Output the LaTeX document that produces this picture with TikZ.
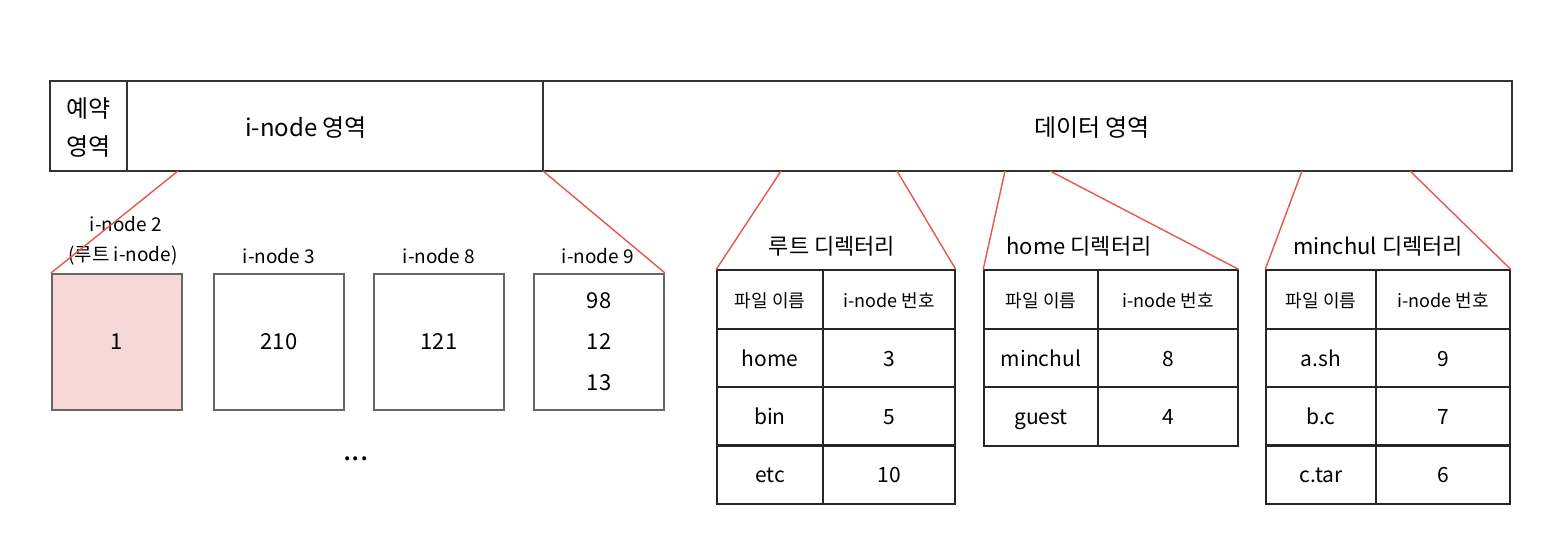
\documentclass[tikz,border=0pt]{standalone}
\usepackage{fontspec}
\setmainfont{Noto Sans CJK KR}
\usetikzlibrary{positioning}
\definecolor{zoomred}{HTML}{E5574F}
\definecolor{rootpink}{HTML}{F7D7D8}

\begin{document}
\begin{tikzpicture}[x=1pt,y=-1pt,
        bar/.style={draw=black!80, line width=1.6pt, minimum height=90, inner sep=0},
        barlbl/.style={inner sep=0, font=\fontsize{24}{38}\selectfont, align=center},
        inobox/.style={draw=black!60, line width=2pt, minimum width=130, minimum height=136,
            inner sep=0, align=center, font=\fontsize{22}{41}\selectfont},
        cell/.style={draw=black!85, line width=1.6pt, minimum height=58.5, inner sep=0,
            text height=20pt, text depth=4pt, font=\fontsize{21}{24}\selectfont},
        head/.style={cell, font=\fontsize{18}{20}\selectfont},
        lbl/.style={inner sep=0, font=\fontsize{19}{22}\selectfont},
        dirtitle/.style={inner sep=0, font=\fontsize{22}{25}\selectfont},
        zoomline/.style={draw=zoomred, line width=1.4pt}]
        \useasboundingbox (0,0) rectangle (1558,554);
        % Disk layout bar
        \node[bar, minimum width=77] (rsv) at (88.5,126) {};
        \node[bar, minimum width=416] (inoarea) at (335,126) {};
        \node[bar, minimum width=969] (dataarea) at (1027.5,126) {};
        \node[barlbl] (rsvlbl) at (88.5,128) {예약\\영역};
        \node[barlbl] (inolbl) at (306,128) {i-node 영역};
        \node[barlbl] (datalbl) at (1092,128) {데이터 영역};
        % i-nodes
        \node[inobox, fill=rootpink] (ino2) at (117,342) {1};
        \node[inobox] (ino3) at (279,342) {210};
        \node[inobox] (ino8) at (439,342) {121};
        \node[inobox] (ino9) at (599,342) {98\\12\\13};
        \node[lbl] (ino2lbl) at (126,224) {i-node 2};
        \node[lbl] (ino2sub) at (123,256) {(루트 i-node)};
        \node[lbl] (ino3lbl) at (279,256) {i-node 3};
        \node[lbl] (ino8lbl) at (439,256) {i-node 8};
        \node[lbl] (ino9lbl) at (598,256) {i-node 9};
        \node[inner sep=0, font=\fontsize{30}{30}\selectfont] (more) at (356,459) {...};
        % Root directory
        \node[dirtitle] (roottitle) at (832,246) {루트 디렉터리};
        \node[head, minimum width=106] (r0a) at (770,299.5) {파일 이름};
        \node[head, minimum width=132] (r0b) at (889,299.5) {i-node 번호};
        \node[cell, minimum width=106] (r1a) at (770,358) {home};
        \node[cell, minimum width=132] (r1b) at (889,358) {3};
        \node[cell, minimum width=106] (r2a) at (770,416.5) {bin};
        \node[cell, minimum width=132] (r2b) at (889,416.5) {5};
        \node[cell, minimum width=106] (r3a) at (770,474.5) {etc};
        \node[cell, minimum width=132] (r3b) at (889,474.5) {10};
        % home directory
        \node[dirtitle] (hometitle) at (1079,246) {home 디렉터리};
        \node[head, minimum width=114] (h0a) at (1041,299.5) {파일 이름};
        \node[head, minimum width=140] (h0b) at (1168,299.5) {i-node 번호};
        \node[cell, minimum width=114] (h1a) at (1041,358) {minchul};
        \node[cell, minimum width=140] (h1b) at (1168,358) {8};
        \node[cell, minimum width=114] (h2a) at (1041,416.5) {guest};
        \node[cell, minimum width=140] (h2b) at (1168,416.5) {4};
        % minchul directory
        \node[dirtitle] (mctitle) at (1378,246) {minchul 디렉터리};
        \node[head, minimum width=110] (m0a) at (1321,299.5) {파일 이름};
        \node[head, minimum width=134] (m0b) at (1443,299.5) {i-node 번호};
        \node[cell, minimum width=110] (m1a) at (1321,358) {a.sh};
        \node[cell, minimum width=134] (m1b) at (1443,358) {9};
        \node[cell, minimum width=110] (m2a) at (1321,416.5) {b.c};
        \node[cell, minimum width=134] (m2b) at (1443,416.5) {7};
        \node[cell, minimum width=110] (m3a) at (1321,474.5) {c.tar};
        \node[cell, minimum width=134] (m3b) at (1443,474.5) {6};
        % Zoom lines
        \coordinate (zi1) at (178,171);
        \coordinate (zi2) at (543,171);
        \coordinate (zr1) at (781,171);
        \coordinate (zr2) at (897,171);
        \coordinate (zh1) at (1005,171);
        \coordinate (zh2) at (1050,171);
        \coordinate (zm1) at (1302,171);
        \coordinate (zm2) at (1410,171);
        \draw[zoomline] (zi1) -- (ino2.north west);
        \draw[zoomline] (zi2) -- (ino9.north east);
        \draw[zoomline] (zr1) -- (r0a.north west);
        \draw[zoomline] (zr2) -- (r0b.north east);
        \draw[zoomline] (zh1) -- (h0a.north west);
        \draw[zoomline] (zh2) -- (h0b.north east);
        \draw[zoomline] (zm1) -- (m0a.north west);
        \draw[zoomline] (zm2) -- (m0b.north east);
    \end{tikzpicture}
\end{document}
